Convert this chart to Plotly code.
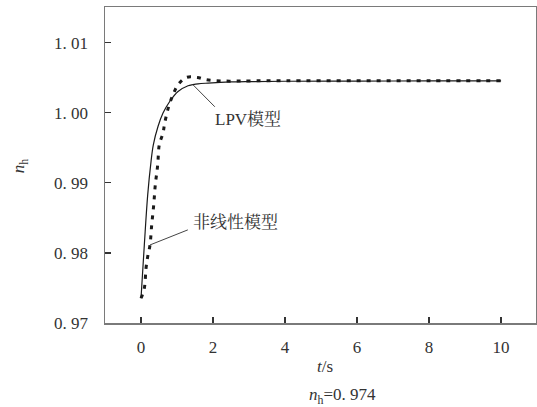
import plotly.graph_objects as go

# LPV model (solid)
lpv_t = [0.0, 0.092, 0.186, 0.278, 0.342, 0.472, 0.611, 0.797, 1.028, 1.306, 1.44, 1.583, 1.861, 2.5, 3.0, 4.0, 6.0, 8.0, 10.0]
lpv_v = [0.97353, 0.98114, 0.98829, 0.99304, 0.99543, 0.99804, 0.99996, 1.00161, 1.00304, 1.00386, 1.00402, 1.00414, 1.00424, 1.00440, 1.00445, 1.00450, 1.00452, 1.00455, 1.00457]

# Nonlinear model (dotted)
nl_t = [0.0, 0.092, 0.139, 0.186, 0.25, 0.297, 0.353, 0.397, 0.464, 0.508, 0.611, 0.658, 0.769, 0.889, 1.028, 1.258, 1.564, 1.814, 2.2, 2.6, 3.0, 4.0, 6.0, 8.0, 10.0]
nl_v = [0.97353, 0.97496, 0.97781, 0.97947, 0.98114, 0.98400, 0.98686, 0.98971, 0.99257, 0.99543, 0.99710, 0.99853, 1.00090, 1.00257, 1.00400, 1.00505, 1.00505, 1.00471, 1.00455, 1.00452, 1.00455, 1.00457, 1.00457, 1.00457, 1.00457]

x_ticks = [0, 2, 4, 6, 8, 10]
y_ticks = [0.97, 0.98, 0.99, 1.00, 1.01]
y_tick_text = ["0. 97", "0. 98", "0. 99", "1. 00", "1. 01"]

lpv_label = "LPV模型"
nl_label = "非线性模型"
x_title = "<i>t</i>/s"
y_title = "<i>n</i><sub>h</sub>"
caption = "<i>n</i><sub>h</sub>=0. 974"

FONT = "Liberation Serif"
CJK_FONT = "Liberation Serif, Noto Serif CJK SC, Noto Sans CJK SC"
AX_COLOR = "#7a7a7a"
TXT = "#333"

fig = go.Figure()
fig.add_trace(go.Scatter(x=nl_t, y=nl_v, mode="lines", line=dict(color="#1a1a1a", width=3, dash="4px,6px"),
                         line_shape="spline", showlegend=False, hoverinfo="skip"))
fig.add_trace(go.Scatter(x=lpv_t, y=lpv_v, mode="lines", line=dict(color="#1a1a1a", width=1.2),
                         line_shape="spline", showlegend=False, hoverinfo="skip"))

axis_common = dict(showgrid=False, zeroline=False, showline=True, linecolor=AX_COLOR, linewidth=1.5,
                   mirror=True, ticks="inside", ticklen=6, tickcolor=TXT, tickwidth=1.2,
                   tickfont=dict(family=FONT, size=17, color=TXT))

fig.update_layout(
    width=537, height=407,
    margin=dict(l=105, r=1, t=7, b=84, autoexpand=False),
    paper_bgcolor="white", plot_bgcolor="white",
    xaxis=dict(range=[-1, 10.97], tickvals=x_ticks, ticklabelstandoff=8, automargin=False, **axis_common),
    yaxis=dict(range=[0.97, 1.0151], tickvals=y_ticks, ticktext=y_tick_text, ticklabelstandoff=12,
               automargin=False, **axis_common),
    font=dict(family=FONT, size=17, color=TXT),
)

i_lpv = lpv_t.index(1.44)
i_nl = nl_t.index(0.25)

# leader lines from the curve points to the labels
fig.add_shape(type="line", xref="x", yref="y", x0=lpv_t[i_lpv], y0=lpv_v[i_lpv], x1=2.05, y1=1.00086,
              line=dict(color="#444", width=1))
fig.add_shape(type="line", xref="x", yref="y", x0=nl_t[i_nl], y0=nl_v[i_nl], x1=1.30, y1=0.98329,
              line=dict(color="#444", width=1))

anns = [
    dict(x=2.0, y=0.9990, xref="x", yref="y", text=lpv_label, showarrow=False, xanchor="left", yanchor="middle",
         font=dict(family=CJK_FONT, size=17, color=TXT)),
    dict(x=1.39, y=0.98429, xref="x", yref="y", text=nl_label, showarrow=False, xanchor="left", yanchor="middle",
         font=dict(family=CJK_FONT, size=17, color=TXT)),
    dict(x=(326 - 105) / 432, y=-(366 - 323) / 316, xref="paper", yref="paper", text=x_title, showarrow=False,
         xanchor="center", yanchor="middle", font=dict(family=FONT, size=17, color=TXT)),
    dict(x=-(105 - 20) / 432, y=(323 - 166) / 316, xref="paper", yref="paper", text=y_title, showarrow=False,
         textangle=-90, xanchor="center", yanchor="middle", font=dict(family=FONT, size=17, color=TXT)),
    dict(x=(343 - 105) / 432, y=-(396 - 323) / 316, xref="paper", yref="paper", text=caption, showarrow=False,
         xanchor="center", yanchor="middle", font=dict(family=FONT, size=17, color=TXT)),
]
fig.update_layout(annotations=anns)

fig.write_html("out.html", config={"displayModeBar": False, "staticPlot": True},
               post_script="document.body.style.margin='0';document.body.style.overflow='hidden';")
